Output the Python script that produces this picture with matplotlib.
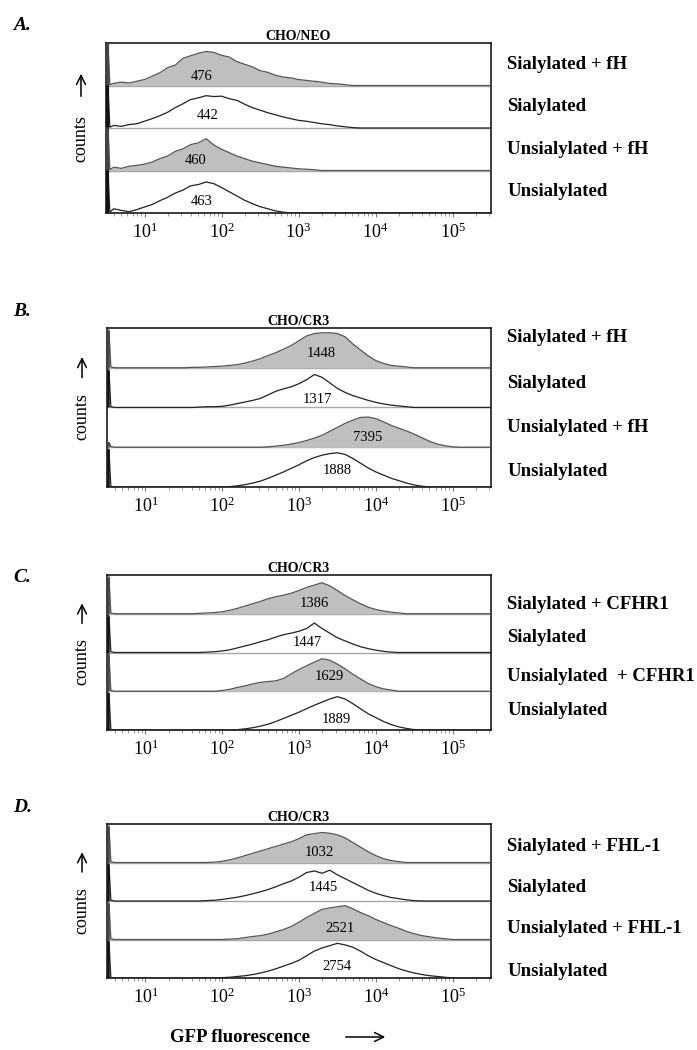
import numpy as np
import matplotlib
matplotlib.use("Agg")
import matplotlib.pyplot as plt

plt.rcParams["font.family"] = ["Liberation Serif", "DejaVu Serif"]
plt.rcParams["mathtext.fontset"] = "custom"
plt.rcParams["mathtext.rm"] = "Liberation Serif"

# log10 positions of the histogram channels
grid_log = np.round(np.arange(0.6, 5.51, 0.1), 1)

# ---- panel A : CHO/NEO ----
a_title = "CHO/NEO"
a_labels = ["Sialylated + fH", "Sialylated", "Unsialylated + fH", "Unsialylated"]
a_start = [0.6, 0.6, 0.6, 0.6]
a_hist = [
    [0.05, 0.08, 0.06, 0.1, 0.14, 0.22, 0.3, 0.42, 0.48, 0.64, 0.7, 0.76, 0.8, 0.78, 0.71, 0.67,
     0.56, 0.5, 0.44, 0.35, 0.31, 0.24, 0.2, 0.18, 0.14, 0.12, 0.1, 0.08, 0.05, 0.04, 0.02],
    [0.06, 0.04, 0.08, 0.1, 0.16, 0.22, 0.29, 0.37, 0.48, 0.57, 0.67, 0.71, 0.76, 0.74, 0.75, 0.69,
     0.65, 0.56, 0.48, 0.42, 0.36, 0.31, 0.26, 0.22, 0.18, 0.16, 0.13, 0.1, 0.08, 0.05, 0.03, 0.01],
    [0.08, 0.05, 0.1, 0.12, 0.15, 0.2, 0.28, 0.34, 0.45, 0.51, 0.61, 0.65, 0.75, 0.6, 0.5, 0.42,
     0.34, 0.28, 0.22, 0.18, 0.14, 0.1, 0.08, 0.06, 0.04, 0.03, 0.02],
    [0.1, 0.06, 0.03, 0.08, 0.14, 0.2, 0.29, 0.37, 0.47, 0.54, 0.64, 0.67, 0.73, 0.69, 0.6, 0.5,
     0.4, 0.3, 0.22, 0.15, 0.1, 0.05, 0.02],
]
a_spike = [1.0, 1.0, 1.0, 1.0]
a_mfi = ["476", "442", "460", "463"]
a_mfi_x = [1.74, 1.82, 1.66, 1.74]
a_mfi_lift = [0.21, 0.29, 0.24, 0.26]

# ---- panel B : CHO/CR3, fH ----
b_title = "CHO/CR3"
b_labels = ["Sialylated + fH", "Sialylated", "Unsialylated + fH", "Unsialylated"]
b_start = [1.6, 1.7, 2.6, 2.1]
b_hist = [
    [0.01, 0.01, 0.02, 0.03, 0.04, 0.06, 0.08, 0.12, 0.17, 0.23, 0.31, 0.38, 0.47, 0.56, 0.68,
     0.8, 0.86, 0.88, 0.88, 0.86, 0.78, 0.6, 0.45, 0.3, 0.18, 0.11, 0.06, 0.04, 0.02],
    [0.01, 0.02, 0.02, 0.03, 0.06, 0.1, 0.14, 0.18, 0.23, 0.32, 0.41, 0.47, 0.52, 0.6, 0.7,
     0.83, 0.76, 0.62, 0.48, 0.38, 0.3, 0.24, 0.18, 0.13, 0.09, 0.06, 0.04, 0.02],
    [0.01, 0.03, 0.05, 0.08, 0.12, 0.17, 0.23, 0.3, 0.4, 0.5, 0.6, 0.68, 0.75, 0.76, 0.72,
     0.64, 0.55, 0.48, 0.41, 0.33, 0.24, 0.15, 0.08, 0.04, 0.01],
    [0.01, 0.03, 0.06, 0.1, 0.15, 0.22, 0.3, 0.38, 0.47, 0.56, 0.66, 0.74, 0.8, 0.84, 0.86,
     0.82, 0.72, 0.6, 0.48, 0.38, 0.3, 0.22, 0.16, 0.1, 0.05, 0.02],
]
b_spike = [0.95, 0.95, 0.12, 0.95]
b_mfi = ["1448", "1317", "7395", "1888"]
b_mfi_x = [3.29, 3.24, 3.89, 3.5]
b_mfi_lift = [0.37, 0.2, 0.25, 0.42]

# ---- panel C : CHO/CR3, CFHR1 ----
c_title = "CHO/CR3"
c_labels = ["Sialylated + CFHR1", "Sialylated", "Unsialylated  + CFHR1", "Unsialylated"]
c_start = [1.7, 1.8, 2.0, 2.2]
c_hist = [
    [0.01, 0.02, 0.03, 0.05, 0.09, 0.14, 0.2, 0.26, 0.32, 0.39, 0.44, 0.48, 0.53, 0.6, 0.68,
     0.74, 0.8, 0.72, 0.6, 0.47, 0.36, 0.26, 0.17, 0.11, 0.07, 0.04, 0.02],
    [0.01, 0.02, 0.04, 0.07, 0.12, 0.17, 0.22, 0.28, 0.33, 0.4, 0.46, 0.5, 0.55, 0.62, 0.76,
     0.62, 0.5, 0.38, 0.3, 0.22, 0.15, 0.1, 0.06, 0.03, 0.01],
    [0.02, 0.05, 0.1, 0.14, 0.19, 0.23, 0.25, 0.27, 0.33, 0.45, 0.56, 0.66, 0.75, 0.84, 0.8,
     0.7, 0.58, 0.44, 0.32, 0.2, 0.12, 0.06, 0.03],
    [0.01, 0.03, 0.06, 0.1, 0.15, 0.22, 0.3, 0.38, 0.46, 0.55, 0.64, 0.72, 0.8, 0.86, 0.8,
     0.68, 0.55, 0.42, 0.32, 0.22, 0.14, 0.08, 0.04, 0.01],
]
c_spike = [0.95, 0.95, 0.95, 0.95]
c_mfi = ["1386", "1447", "1629", "1889"]
c_mfi_x = [3.2, 3.11, 3.4, 3.48]
c_mfi_lift = [0.26, 0.26, 0.37, 0.26]

# ---- panel D : CHO/CR3, FHL-1 ----
d_title = "CHO/CR3"
d_labels = ["Sialylated + FHL-1", "Sialylated", "Unsialylated + FHL-1", "Unsialylated"]
d_start = [1.9, 1.8, 2.1, 2.0]
d_hist = [
    [0.01, 0.03, 0.07, 0.12, 0.18, 0.24, 0.3, 0.36, 0.42, 0.48, 0.54, 0.62, 0.72, 0.75, 0.78,
     0.76, 0.72, 0.64, 0.52, 0.4, 0.28, 0.18, 0.1, 0.05, 0.02],
    [0.01, 0.02, 0.04, 0.07, 0.1, 0.14, 0.19, 0.24, 0.3, 0.37, 0.45, 0.52, 0.62, 0.74, 0.78,
     0.72, 0.8, 0.68, 0.58, 0.48, 0.38, 0.28, 0.2, 0.14, 0.09, 0.06, 0.03, 0.01],
    [0.01, 0.02, 0.05, 0.08, 0.1, 0.14, 0.2, 0.26, 0.34, 0.45, 0.57, 0.68, 0.78, 0.82, 0.85,
     0.88, 0.8, 0.7, 0.62, 0.52, 0.44, 0.36, 0.29, 0.21, 0.15, 0.1, 0.07, 0.04, 0.02],
    [0.01, 0.02, 0.04, 0.06, 0.09, 0.13, 0.18, 0.24, 0.31, 0.38, 0.46, 0.58, 0.7, 0.78, 0.84,
     0.9, 0.86, 0.8, 0.7, 0.58, 0.48, 0.4, 0.32, 0.24, 0.18, 0.13, 0.09, 0.06, 0.04, 0.02],
]
d_spike = [0.95, 0.95, 0.95, 0.95]
d_mfi = ["1032", "1445", "2521", "2754"]
d_mfi_x = [3.27, 3.32, 3.54, 3.5]
d_mfi_lift = [0.26, 0.34, 0.29, 0.29]

W, H = 697, 1050
FILL = "#bfbfbf"


def full_curve(start, values, spike):
	h = np.zeros(len(grid_log))
	i0 = int(round((start - 0.6) * 10))
	h[i0:i0 + len(values)] = values
	x = np.r_[0.502, 0.525, 0.55, grid_log]
	y = np.r_[spike, spike, 0.02, h]
	return 10 ** x, y


def draw_panel(box, letter, letter_y, title, labels, starts, hists, spikes, mfi, mfi_x, mfi_lift,
			   label_shift, spike_lw):
	left, right, top, bottom = box
	ax = fig.add_axes([left / W, 1 - bottom / H, (right - left) / W, (bottom - top) / H])
	ax.set_xscale("log")
	ax.set_xlim(10 ** 0.5, 10 ** 5.5)
	ax.set_ylim(0, 4)
	for k in range(4):
		base = 3 - k
		x, y = full_curve(starts[k], hists[k], spikes[k])
		ax.axhline(base, color="#a8a8a8", lw=1.0, zorder=1)
		if k % 2 == 0:
			edge = "#555555"
			ax.fill_between(x, base, base + y, color=FILL, lw=0, zorder=2)
		else:
			edge = "#222222"
		ax.plot(x, base + y, color=edge, lw=0.9, zorder=3)
		ax.plot([x[0] * 1.04, x[0] * 1.04], [base, base + y[0]], color="#111111" if k % 2 else "#444444",
				lw=spike_lw, solid_capstyle="butt", zorder=3)
		ax.text(10 ** mfi_x[k], base + mfi_lift[k], mfi[k], ha="center", va="center",
				fontsize=10.5, zorder=4)
		ax.text(1.042, base + 0.5 - label_shift[k], labels[k], transform=ax.get_yaxis_transform(),
				ha="left", va="center", fontsize=13.5, fontweight="bold")
	ax.set_yticks([])
	for s in ax.spines.values():
		s.set_linewidth(1.2)
		s.set_color("#1a1a1a")
	ax.tick_params(axis="x", which="major", length=3, width=0.8, color="#777777", pad=4, labelsize=13)
	ax.tick_params(axis="x", which="minor", length=1.8, width=0.6, color="#888888")
	ax.set_title(title, fontsize=10, fontweight="bold", pad=2.5)
	ax.text(-0.065, 0.44, "counts", rotation=90, transform=ax.transAxes,
			ha="center", va="center", fontsize=13)
	ax.annotate("", xy=(-0.065, 0.835), xytext=(-0.065, 0.67), xycoords="axes fraction",
				arrowprops=dict(arrowstyle="->", lw=1.1, color="black", mutation_scale=16),
				annotation_clip=False)
	fig.text(13 / W, 1 - letter_y / H, letter, ha="left", va="center", fontsize=14,
			 fontweight="bold", fontstyle="italic")
	return ax


fig = plt.figure(figsize=(W / 100, H / 100), dpi=100)

draw_panel((106, 491, 43, 213), "A.", 25, a_title, a_labels, a_start, a_hist, a_spike,
		   a_mfi, a_mfi_x, a_mfi_lift, [0.0, 0.0, 0.0, 0.0], 3.0)
draw_panel((107, 491, 328, 487), "B.", 312, b_title, b_labels, b_start, b_hist, b_spike,
		   b_mfi, b_mfi_x, b_mfi_lift, [-0.25, -0.1, 0.0, 0.1], 1.8)
draw_panel((107, 491, 575, 730), "C.", 577, c_title, c_labels, c_start, c_hist, c_spike,
		   c_mfi, c_mfi_x, c_mfi_lift, [0.25, 0.1, 0.12, 0.0], 1.8)
draw_panel((107, 491, 824, 978), "D.", 808, d_title, d_labels, d_start, d_hist, d_spike,
		   d_mfi, d_mfi_x, d_mfi_lift, [0.08, 0.15, 0.22, 0.33], 1.8)

fig.text(240 / W, 1 - 1037 / H, "GFP fluorescence", ha="center", va="center",
		 fontsize=13.5, fontweight="bold")
fig.patches.append(matplotlib.patches.FancyArrowPatch(
	(343 / W, 1 - 1037 / H), (388 / W, 1 - 1037 / H), transform=fig.transFigure,
	arrowstyle="->", mutation_scale=16, lw=1.1, color="black"))

fig.savefig("out.png", dpi=100)
